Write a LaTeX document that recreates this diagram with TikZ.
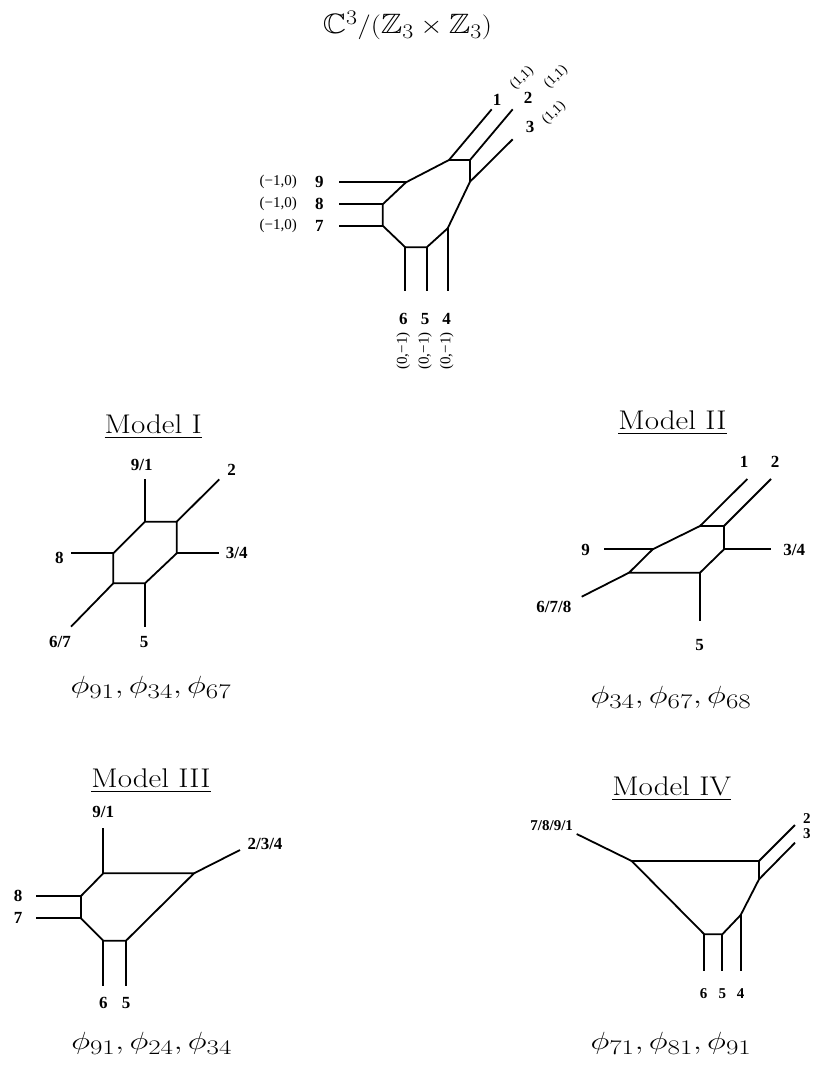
\documentclass[tikz,border=0pt]{standalone}
\usepackage{amssymb}
\usepackage{fontspec}
\newfontfamily\tnr{Liberation Serif}
\DeclareMathSizes{25}{25}{20}{15}
\DeclareMathSizes{28}{28}{20}{15}
\tikzset{
  web/.style={line width=1.8pt},
  blab/.style={font=\tnr\bfseries\fontsize{17}{17}\selectfont, inner sep=0pt},
  slab/.style={font=\tnr\bfseries\fontsize{15}{15}\selectfont, inner sep=0pt},
  clab/.style={font=\tnr\fontsize{15}{15}\selectfont, inner sep=0pt},
  rlab/.style={font=\tnr\fontsize{14}{14}\selectfont, inner sep=0pt},
  mtitle/.style={font=\fontsize{27}{30}\selectfont, inner sep=0pt, anchor=base},
  phil/.style={font=\fontsize{25}{30}\selectfont, inner sep=0pt}
}
\newcommand{\mdl}[1]{\scalebox{1.15}[1]{\underline{Model #1}}}
\newcommand{\phis}[1]{\scalebox{1.3}[1]{#1}}
\begin{document}
\begin{tikzpicture}[x=1pt,y=-1pt]
\useasboundingbox (0,0) rectangle (814,1079);
% title
\node[font=\fontsize{28}{30}\selectfont, inner sep=0pt, anchor=base] (title) at (407.5,33.3)
  {\scalebox{1.15}[1]{$\mathbb{C}^3/(\mathbb{Z}_3\times\mathbb{Z}_3)$}};
% ---------- top web ----------
\coordinate (v1) at (449,160);
\coordinate (v2) at (470,160);
\coordinate (v3) at (470,181.7);
\coordinate (v4) at (447.7,228.3);
\coordinate (v5) at (426.7,247.3);
\coordinate (v6) at (405.3,247.3);
\coordinate (v7) at (382.7,225.7);
\coordinate (v8) at (382.7,204.3);
\coordinate (v9) at (406,182.3);
\coordinate (l1) at (491.7,109.3);
\coordinate (l2) at (512.7,109.3);
\coordinate (l3) at (512.7,139.3);
\coordinate (l4) at (447.7,290.7);
\coordinate (l5) at (426.7,290.7);
\coordinate (l6) at (405.3,290.7);
\coordinate (l7) at (339.3,225.7);
\coordinate (l8) at (339.3,204.3);
\coordinate (l9) at (339.3,182.3);
\draw[web] (v1) -- (v2) -- (v3) -- (v4) -- (v5) -- (v6) -- (v7) -- (v8) -- (v9) -- cycle;
\foreach \i in {1,...,9} \draw[web] (v\i) -- (l\i);
\node[blab] (t1) at (497,100) {1};
\node[blab] (t2) at (528,98.3) {2};
\node[blab] (t3) at (530,126.7) {3};
\node[rlab, rotate=45] (c1) at (522,78) {(1,1)};
\node[rlab, rotate=45] (c2) at (556,77) {(1,1)};
\node[rlab, rotate=45] (c3) at (554,113) {(1,1)};
\node[blab] (t9) at (319.3,182.3) {9};
\node[blab] (t8) at (319.3,204.3) {8};
\node[blab] (t7) at (319.3,225.7) {7};
\node[clab, anchor=east] (c9) at (297,182.3) {(−1,0)};
\node[clab, anchor=east] (c8) at (297,204.3) {(−1,0)};
\node[clab, anchor=east] (c7) at (297,225.7) {(−1,0)};
\node[blab] (t6) at (403.3,319.3) {6};
\node[blab] (t5) at (425,319.3) {5};
\node[blab] (t4) at (446.7,319.3) {4};
\node[clab, rotate=90] (c6) at (403.3,351) {(0,−1)};
\node[clab, rotate=90] (c5) at (425,351) {(0,−1)};
\node[clab, rotate=90] (c4) at (446.7,351) {(0,−1)};
% ---------- Model I ----------
\node[mtitle] (m1) at (153.3,433.3) {\mdl{I}};
\coordinate (aA) at (145,521.7);
\coordinate (aB) at (176.7,521.7);
\coordinate (aC) at (176.7,553.3);
\coordinate (aD) at (145,583.3);
\coordinate (aE) at (113.3,583.3);
\coordinate (aF) at (113.3,553.3);
\coordinate (aa) at (145,479.3);
\coordinate (ab) at (219.3,479.3);
\coordinate (ac) at (219.3,553.3);
\coordinate (ad) at (145,626.7);
\coordinate (ae) at (71,626.7);
\coordinate (af) at (71,553.3);
\draw[web] (aA) -- (aB) -- (aC) -- (aD) -- (aE) -- (aF) -- cycle;
\draw[web] (aA) -- (aa); \draw[web] (aB) -- (ab); \draw[web] (aC) -- (ac);
\draw[web] (aD) -- (ad); \draw[web] (aE) -- (ae); \draw[web] (aF) -- (af);
\node[blab] (a91) at (141.7,465) {9/1};
\node[blab] (a2) at (231.7,470) {2};
\node[blab] (a34) at (236.7,553.3) {3/4};
\node[blab] (a8) at (59.3,557.5) {8};
\node[blab] (a67) at (60,641.7) {6/7};
\node[blab] (a5) at (144,641.7) {5};
\node[phil] (p1) at (151,687) {\phis{$\phi_{91},\phi_{34},\phi_{67}$}};
% ---------- Model II ----------
\node[mtitle] (m2) at (672.5,429.3) {\mdl{II}};
\coordinate (bA) at (700,526);
\coordinate (bB) at (724,526);
\coordinate (bC) at (724,549.3);
\coordinate (bD) at (700,572.7);
\coordinate (bE) at (629,572.7);
\coordinate (bF) at (652.7,549.3);
\coordinate (ba) at (747.3,479);
\coordinate (bb) at (771,479);
\coordinate (bc) at (771,549.3);
\coordinate (bd) at (700,620.7);
\coordinate (be) at (581.7,596.7);
\coordinate (bf) at (604.3,549.3);
\draw[web] (bA) -- (bB) -- (bC) -- (bD) -- (bE) -- (bF) -- cycle;
\draw[web] (bA) -- (ba); \draw[web] (bB) -- (bb); \draw[web] (bC) -- (bc);
\draw[web] (bD) -- (bd); \draw[web] (bE) -- (be); \draw[web] (bF) -- (bf);
\node[blab] (b1) at (744,462.3) {1};
\node[blab] (b2) at (775,462.3) {2};
\node[blab] (b9) at (585.7,550) {9};
\node[blab] (b34) at (794.3,550) {3/4};
\node[blab] (b678) at (553.8,606.7) {6/7/8};
\node[blab] (b5) at (699.7,645) {5};
\node[phil] (p2) at (671,697) {\phis{$\phi_{34},\phi_{67},\phi_{68}$}};
% ---------- Model III ----------
\node[mtitle] (m3) at (151,787.3) {\mdl{III}};
\coordinate (cA) at (103.3,873.3);
\coordinate (cB) at (194,873.3);
\coordinate (cC) at (126,940.7);
\coordinate (cD) at (103.3,940.7);
\coordinate (cE) at (81,918.3);
\coordinate (cF) at (81,896);
\coordinate (ca) at (103.3,828.3);
\coordinate (cb) at (240,850);
\coordinate (cc) at (126,986);
\coordinate (cd) at (103.3,986);
\coordinate (ce) at (36,918.3);
\coordinate (cf) at (36,896);
\draw[web] (cA) -- (cB) -- (cC) -- (cD) -- (cE) -- (cF) -- cycle;
\draw[web] (cA) -- (ca); \draw[web] (cB) -- (cb); \draw[web] (cC) -- (cc);
\draw[web] (cD) -- (cd); \draw[web] (cE) -- (ce); \draw[web] (cF) -- (cf);
\node[blab] (c91) at (103.3,812.3) {9/1};
\node[blab] (c234) at (265,844.3) {2/3/4};
\node[blab] (c8) at (18,896) {8};
\node[blab] (c7) at (18,918) {7};
\node[blab] (c6l) at (103.3,1003.3) {6};
\node[blab] (c5l) at (126,1003.3) {5};
\node[phil] (p3) at (151.7,1043) {\phis{$\phi_{91},\phi_{24},\phi_{34}$}};
% ---------- Model IV ----------
\node[mtitle] (m4) at (671.7,795) {\mdl{IV}};
\coordinate (dA) at (631.7,861);
\coordinate (dB) at (759,861);
\coordinate (dC) at (759,879.3);
\coordinate (dD) at (740.7,915);
\coordinate (dE) at (722.3,934.3);
\coordinate (dF) at (704.3,934.3);
\coordinate (da) at (576.7,834);
\coordinate (db) at (795,825);
\coordinate (dc) at (795,842.7);
\coordinate (dd) at (740.7,970.7);
\coordinate (de) at (722.3,970.7);
\coordinate (df) at (704.3,970.7);
\draw[web] (dA) -- (dB) -- (dC) -- (dD) -- (dE) -- (dF) -- cycle;
\draw[web] (dA) -- (da); \draw[web] (dB) -- (db); \draw[web] (dC) -- (dc);
\draw[web] (dD) -- (dd); \draw[web] (dE) -- (de); \draw[web] (dF) -- (df);
\node[slab] (d7891) at (551.7,826) {7/8/9/1};
\node[slab, anchor=west] (d2) at (803,818.3) {2};
\node[slab, anchor=west] (d3) at (803,834) {3};
\node[slab] (d6) at (703.7,993.3) {6};
\node[slab] (d5) at (722.3,993.3) {5};
\node[slab] (d4) at (740.7,993.3) {4};
\node[phil] (p4) at (671,1043) {\phis{$\phi_{71},\phi_{81},\phi_{91}$}};
\end{tikzpicture}
\end{document}
